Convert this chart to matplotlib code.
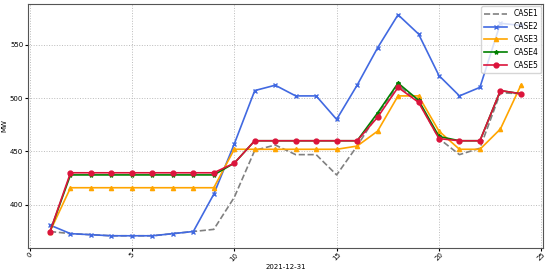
import numpy as np
import matplotlib.pyplot as plt

hours = np.arange(1, 25)
case1 = [375, 373, 372, 371, 371, 371, 373, 375, 377, 407, 451, 456, 447, 447, 428, 455,
         485, 512, 497, 462, 447, 453, 505, 504]
case2 = [381, 373, 372, 371, 371, 371, 373, 375, 410, 457, 507, 512, 502, 502, 480, 512,
         547, 578, 560, 521, 502, 510, 570, 568]
case3 = [375, 416, 416, 416, 416, 416, 416, 416, 416, 452, 452, 452, 452, 452, 452, 455,
         469, 502, 502, 469, 452, 452, 471, 512]
case4 = [375, 428, 428, 428, 428, 428, 428, 428, 428, 439, 460, 460, 460, 460, 460, 460,
         486, 514, 498, 464, 460, 460, 507, 504]
case5 = [375, 430, 430, 430, 430, 430, 430, 430, 430, 439, 460, 460, 460, 460, 460, 460,
         482, 510, 496, 462, 460, 460, 507, 504]

fig = plt.figure(figsize=(5.5, 2.72), dpi=100)
plt.subplots_adjust(top=0.985, bottom=0.09, left=0.05, right=0.988)
ax = plt.gca()

plt.plot(hours, case1, color='grey', linestyle='--', lw=1.2, label='CASE1')
plt.plot(hours, case2, color='royalblue', marker='x', ms=3, lw=1.2, label='CASE2')
plt.plot(hours, case3, color='orange', marker='^', ms=3, lw=1.2, label='CASE3')
plt.plot(hours, case4, color='green', marker='*', ms=3, lw=1.2, label='CASE4')
plt.plot(hours, case5, color='crimson', marker='o', ms=3.5, lw=1.2, label='CASE5')

plt.xlim(-0.1, 25.1)
plt.ylim(360, 588)
plt.xticks([0, 5, 10, 15, 20, 25], fontsize=5, rotation=45)
plt.yticks([400, 450, 500, 550], fontsize=5)
plt.xlabel('2021-12-31', fontsize=5, labelpad=1)
plt.ylabel('MW', fontsize=5, labelpad=2)
plt.grid(True, linestyle=':', color='#bbbbbb', lw=0.7)
ax.tick_params(length=2, pad=1)
for s in ax.spines.values():
    s.set_color('#555555')
plt.legend(loc='upper right', fontsize=5.5, handlelength=3, borderaxespad=0.3)

plt.savefig('out.png', dpi=100)
